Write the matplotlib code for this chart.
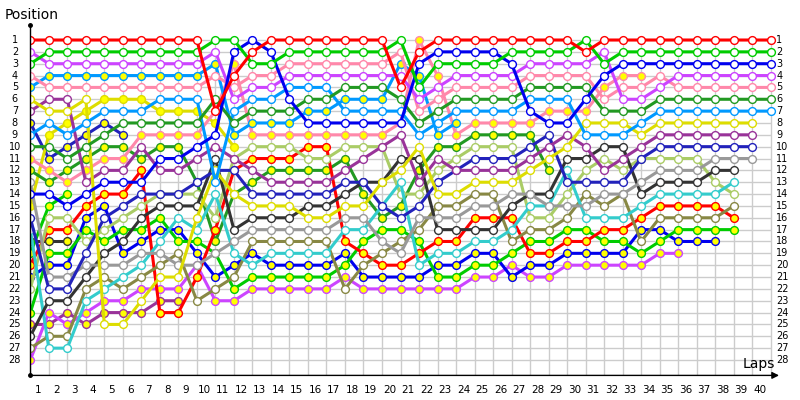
import numpy as np
import matplotlib
matplotlib.use("Agg")
import matplotlib.pyplot as plt

nan = np.nan

# positions per lap (index 0 = start grid)
red_w = [1, 1, 1, 1, 1, 1, 1, 1, 1, 1, 7, 4, 2, 1, 1, 1, 1, 1, 1, 1,
         5, 2, 1, 1, 1, 1, 1, 1, 1, 1, 2, 1, 1, 1, 1, 1, 1, 1, 1, 1, 1]
green_w = [3, 2, 2, 2, 2, 2, 2, 2, 2, 2, 1, 1, 3, 3, 2, 2, 2, 2, 2, 2,
           1, 5, 3, 3, 3, 3, 2, 2, 2, 2, 1, 3, 2, 2, 2, 2, 2, 2, 2, 2, 2]
blue_w = [14, 14, 15, 14, 13, 13, 13, 11, 11, 10, 9, 2, 1, 2, 6, 8, 8, 8, 8, 8,
          8, 3, 2, 2, 2, 2, 3, 7, 8, 8, 6, 4, 3, 3, 3, 3, 3, 3, 3, 3, 3]
violet_w = [2, 3, 3, 3, 3, 3, 3, 3, 3, 3, 2, 6, 5, 5, 4, 4, 4, 4, 4, 4,
            4, 6, 5, 4, 4, 4, 4, 3, 3, 3, 3, 2, 6, 6, 5, 4, 4, 4, 4, 4, 4]
pink_w = [4, 5, 5, 5, 5, 5, 5, 5, 5, 5, 4, 5, 4, 4, 3, 3, 3, 3, 3, 3,
          2, 7, 6, 5, 5, 5, 5, 4, 4, 4, 4, 6, 5, 5, 4, 5, 5, 5, 5, 5, 5]
dgreen_w = [10, 10, 11, 10, 9, 8, 8, 8, 8, 8, 6, 8, 7, 7, 7, 6, 6, 5, 5, 5,
            6, 8, 7, 6, 6, 6, 6, 5, 5, 5, 5, 7, 7, 7, 6, 6, 6, 6, 6, 6, 6]
lblue_w = [9, 8, 9, 8, 7, 7, 7, 6, 6, 6, 13, 7, 6, 6, 5, 5, 5, 7, 7, 7,
           7, 9, 8, 7, 7, 7, 7, 6, 6, 6, 9, 9, 9, 8, 7, 7, 7, 7, 7, 7, 7]
yellow_w = [6, 7, 7, 6, 25, 25, 23, 21, 21, 16, 12, 14, 15, 15, 15, 16, 16, 15, 15, 13,
            12, 10, 14, 14, 13, 13, 13, 12, 11, 10, 8, 8, 8, 9, 8, 8, 8, 8, 8, 8]
dpurple_w = [7, 6, 6, 13, 12, 12, 10, 12, 12, 11, 10, 11, 12, 13, 13, 13, 13, 12, 11, 10,
             9, 13, 11, 12, 12, 12, 12, 11, 10, 9, 10, 12, 11, 10, 9, 9, 9, 9, 9, 9]
navy_w = [16, 22, 22, 19, 16, 15, 14, 14, 14, 13, 12, 12, 14, 14, 14, 14, 14, 13, 13, 15,
          16, 15, 13, 12, 11, 11, 11, 10, 9, 13, 13, 13, 13, 11, 10, 10, 10, 10, 10, 10]
gray_w = [13, 21, 21, 20, 20, 20, 19, 19, 20, 20, 19, 18, 17, 17, 17, 17, 17, 16, 16, 18,
          19, 16, 16, 16, 15, 15, 14, 14, 15, 15, 15, 14, 14, 13, 12, 12, 12, 11, 11, 11]
black_w = [26, 23, 23, 21, 19, 18, 16, 15, 15, 15, 11, 17, 16, 16, 16, 15, 15, 14, 13, 13,
           11, 11, 17, 17, 17, 17, 15, 14, 14, 11, 11, 10, 10, 14, 13, 13, 13, 12, 12]
cyan_w = [17, 27, 27, 23, 22, 21, 20, 18, 16, 17, 14, 19, 20, 19, 19, 19, 19, 17, 17, 15,
          13, 20, 19, 19, 18, 18, 17, 15, 15, 12, 16, 16, 16, 15, 14, 14, 14, 14, 13]
lgreen_w = [22, 16, 16, 18, 17, 16, 15, 14, 14, 14, 16, 11, 10, 10, 10, 11, 11, 10, 10, 10,
            14, 14, 12, 11, 10, 10, 10, 16, 16, 14, 12, 11, 12, 11, 11, 11, 11, 13, 14]
olive_w = [27, 26, 26, 22, 21, 22, 21, 20, 19, 23, 22, 21, 18, 18, 18, 18, 18, 22, 20, 19,
           18, 17, 15, 15, 14, 14, 18, 17, 17, 16, 14, 15, 14, 18, 16, 16, 16, 16, 15]
red_y = [20, 17, 17, 15, 14, 14, 12, 24, 24, 21, 17, 12, 11, 11, 11, 10, 10, 18, 19, 20,
         20, 19, 18, 18, 16, 16, 16, 19, 19, 18, 18, 17, 17, 16, 15, 15, 15, 15, 16]
green_y = [24, 19, 19, 17, 18, 17, 17, 16, 18, 18, 19, 22, 21, 21, 21, 21, 21, 20, 18, 17,
           17, 18, 21, 21, 20, 20, 19, 18, 18, 17, 17, 18, 18, 19, 18, 17, 17, 17, 17]
blue_y = [21, 20, 20, 16, 15, 19, 18, 17, 17, 19, 21, 20, 19, 20, 20, 20, 20, 19, 21, 21,
          21, 21, 20, 20, 19, 19, 21, 20, 20, 19, 19, 19, 19, 17, 17, 18, 18, 18]
violet_y = [28, 24, 25, 24, 23, 23, 22, 22, 22, 20, 23, 23, 22, 22, 22, 22, 22, 21, 22, 22,
            22, 22, 22, 22, 21, 21, 20, 21, 21, 20, 20, 20, 20, 20, 19, 19]
lblue_y = [5, 4, 4, 4, 4, 4, 4, 4, 4, 4, 3, 9, 8, 8, 8, 7, 7, 6, 6, 6,
           3, 4, 9, 8]
pink_y = [11, 12, 13, 12, 11, 11, 9, 9, 9, 9, 7, 3, 9, 9, 9, 9, 9, 9, 9, 9,
          8, 1, 4, 9, 8, 8, 8, 8, 7, 7, 7, 5, 4, 4]
dgreen_y = [12, 13, 12, 11, 10, 10, 11, 10, 10, 13, 18, 14, 13, 12, 12, 12, 12, 11, 14, 16,
            15, 12, 10, 10, 9, 9, 9, 9, 12]
yellow_y = [15, 9, 8, 7, 6, 6, 6, 7, 7, 7, 8, 10]
dpurple_y = [25, 25, 24, 25, 24, 24, 24, 23, 23]
navy_y = [8, 11, 10, 9, 8, 9]
green_y2 = [19, 15, 14]
black_y = [18, 18, 18]

RED, GREEN, BLUE, VIOLET = '#ff0000', '#00cc00', '#0000ee', '#cc44ff'
PINK, DGREEN, LBLUE, YELLOW = '#ff88aa', '#229922', '#0099ff', '#dddd00'
DPURPLE, NAVY, GRAY, BLACK = '#993399', '#2222bb', '#999999', '#333333'
CYAN, LGREEN, OLIVE = '#33cccc', '#aacc66', '#888844'
W, Y = 'white', '#ffff00'

# drawn back to front: lower finishers first
drivers = [
    (black_y, BLACK, Y), (green_y2, GREEN, Y), (navy_y, NAVY, Y),
    (dpurple_y, DPURPLE, Y), (yellow_y, YELLOW, Y), (dgreen_y, DGREEN, Y),
    (pink_y, PINK, Y), (lblue_y, LBLUE, Y),
    (violet_y, VIOLET, Y), (blue_y, BLUE, Y), (green_y, GREEN, Y),
    (red_y, RED, Y), (olive_w, OLIVE, W), (lgreen_w, LGREEN, W),
    (cyan_w, CYAN, W), (black_w, BLACK, W), (gray_w, GRAY, W),
    (navy_w, NAVY, W), (dpurple_w, DPURPLE, W), (yellow_w, YELLOW, W),
    (lblue_w, LBLUE, W), (dgreen_w, DGREEN, W), (pink_w, PINK, W),
    (violet_w, VIOLET, W), (blue_w, BLUE, W), (green_w, GREEN, W),
    (red_w, RED, W),
]

n_laps = 40
n_pos = 28

fig = plt.figure(figsize=(8, 4), dpi=100)
ax = fig.add_axes([30.3 / 800, 1 - 375.4 / 400, 41 * 18.51 / 800, (375.4 - 24.6) / 400])
ax.set_xlim(0, 41)
ax.set_ylim(29.3, -0.3)
ax.axis('off')

# grid
ax.hlines(range(1, n_pos + 1), 0, n_laps, color='#cccccc', lw=1, zorder=0)
ax.vlines(range(0, n_laps + 1), 1, 29.3, color='#cccccc', lw=1, zorder=0)

for i, (pos, color, face) in enumerate(drivers):
    laps = np.arange(len(pos))
    ax.plot(laps, pos, color=color, lw=2.2, marker='o', markersize=5.6,
            markerfacecolor=face, markeredgecolor=color, markeredgewidth=1,
            zorder=2 + i, solid_joinstyle='round')

# axes lines
ax.plot([0, 0], [-0.3, 29.3], color='black', lw=1, zorder=50, clip_on=False)
ax.plot([0, 0], [-0.3, 29.3], 'o', color='black', markersize=2.5, zorder=51, clip_on=False)
ax.annotate('', xy=(40.45, 29.3), xytext=(0, 29.3),
            arrowprops=dict(arrowstyle='-|>', color='black', lw=1,
                            mutation_scale=10, shrinkA=0, shrinkB=0),
            annotation_clip=False, zorder=50)

# tick labels
for p in range(1, n_pos + 1):
    ax.text(-0.83, p, str(p), ha='center', va='center', fontsize=7, clip_on=False)
    ax.text(40.3, p, str(p), ha='left', va='center', fontsize=7, clip_on=False)
for k in range(1, n_laps + 1):
    ax.text(k - 0.6, 30.5, str(k), ha='center', va='center', fontsize=7.5, clip_on=False)

fig.text(5 / 800, 1 - 15 / 400, 'Position', fontsize=10, va='center', ha='left')
fig.text(743 / 800, 1 - 364 / 400, 'Laps', fontsize=10, va='center', ha='left')

fig.savefig('out.png', dpi=100)
